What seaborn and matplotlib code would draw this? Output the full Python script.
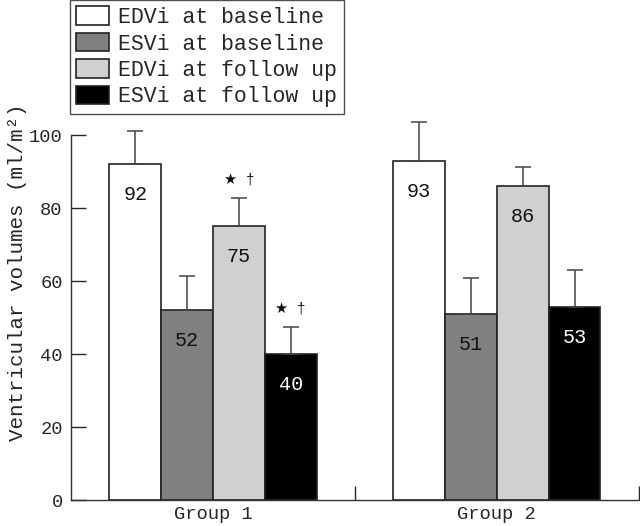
import pandas as pd
import matplotlib
matplotlib.use("Agg")
import matplotlib.pyplot as plt
import seaborn as sns

groups = ["Group 1", "Group 2"]
series = ["EDVi at baseline", "ESVi at baseline", "EDVi at follow up", "ESVi at follow up"]
values = {
    "EDVi at baseline": [92, 93],
    "ESVi at baseline": [52, 51],
    "EDVi at follow up": [75, 86],
    "ESVi at follow up": [40, 53],
}
errors = {
    "EDVi at baseline": [9.2, 10.6],
    "ESVi at baseline": [9.5, 9.7],
    "EDVi at follow up": [7.8, 5.3],
    "ESVi at follow up": [7.5, 10.0],
}
marks = {
    "EDVi at follow up": ["★ †", ""],
    "ESVi at follow up": ["★ †", ""],
}
colors = ["#ffffff", "#808080", "#d0d0d0", "#000000"]
label_colors = ["#111111", "#111111", "#111111", "#ffffff"]

sns.set_style("white")
mono = ["Liberation Mono", "DejaVu Sans"]
plt.rcParams["font.family"] = mono

rows = []
for s in series:
    for g, v in zip(groups, values[s]):
        rows.append({"group": g, "series": s, "value": v})
df = pd.DataFrame(rows)

fig = plt.figure(figsize=(6.4, 5.26), dpi=100)
ax = fig.add_axes([0.111, 0.0494, 0.887, 0.7216])

sns.barplot(data=df, x="group", y="value", hue="series", hue_order=series,
            palette=colors, width=0.73, errorbar=None, edgecolor="#222222",
            linewidth=1.2, saturation=1, ax=ax, legend=True)

# bars come out series by series, group by group
for i, s in enumerate(series):
    cont = ax.containers[i]
    for j, bar in enumerate(cont):
        xc = bar.get_x() + bar.get_width() / 2
        h = bar.get_height()
        err = errors[s][j]
        ax.errorbar(xc, h, yerr=[[0], [err]], fmt="none", ecolor="#444444",
                    elinewidth=1.1, capsize=6, capthick=1.1, clip_on=False, zorder=1)
        ax.annotate(str(values[s][j]), (xc, h), xytext=(0, -22), textcoords="offset points",
                    ha="center", va="center", fontsize=14.5, color=label_colors[i])
        m = marks.get(s, ["", ""])[j]
        if m:
            ax.annotate(m, (xc, h + err), xytext=(0, 13), textcoords="offset points",
                        ha="center", va="center", fontsize=10.5, color="#111111")

ax.set_ylim(0, 104)
ax.set_xlim(-0.5, 1.5)
ax.set_yticks([0, 20, 40, 60, 80, 100])
ax.tick_params(axis="y", direction="in", length=11, width=1, labelsize=13.5, pad=6, left=True)
ax.set_xticks([0, 1])
ax.set_xticklabels(groups)
ax.tick_params(axis="x", which="major", length=0, labelsize=13.5, pad=4)
ax.set_xticks([0.5, 1.5], minor=True)
ax.tick_params(axis="x", which="minor", direction="in", length=10, width=1, bottom=True)
ax.set_xlabel("")
ax.set_ylabel("Ventricular volumes (ml/m²)", fontsize=15)
ax.yaxis.set_label_coords(-0.078, 0.6)

for side in ["top", "right"]:
    ax.spines[side].set_visible(False)
for side in ["left", "bottom"]:
    ax.spines[side].set_color("#333333")
    ax.spines[side].set_linewidth(1)
ax.spines["left"].set_bounds(0, 100)

ax.get_legend().remove()
handles = [plt.Rectangle((0, 0), 1, 1, facecolor=c, edgecolor="#222222", linewidth=1.2) for c in colors]
leg = fig.legend(handles, series, loc="upper left", bbox_to_anchor=(0.109, 1.0),
                 frameon=True, fancybox=False, fontsize=15.5, handlelength=1.5,
                 handleheight=0.95, labelspacing=0.22, handletextpad=0.45,
                 borderpad=0.3, borderaxespad=0)
leg.get_frame().set_edgecolor("#222222")
leg.get_frame().set_linewidth(1)

fig.savefig("out.png", dpi=100)
